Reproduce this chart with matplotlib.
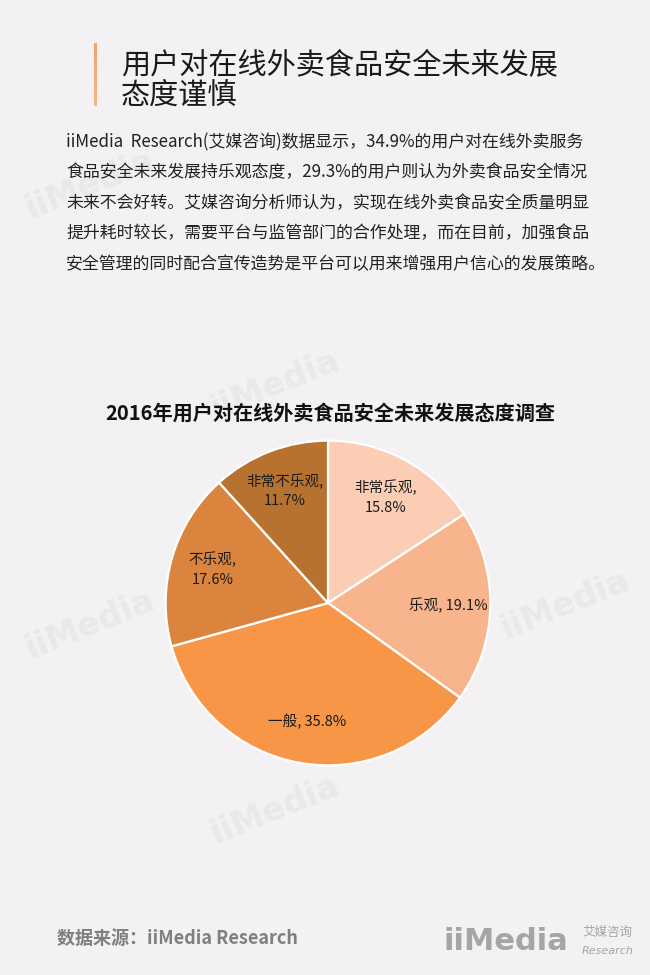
import matplotlib
matplotlib.use("Agg")
import matplotlib.pyplot as plt
import numpy as np

plt.rcParams['font.family'] = ['Noto Sans CJK SC', 'DejaVu Sans']

W, H = 650, 975
BG = '#f3f1f4'

# data
categories = ['非常乐观', '乐观', '一般', '不乐观', '非常不乐观']
values = [15.8, 19.1, 35.8, 17.6, 11.7]
seps = ['\n', ' ', ' ', '\n', '\n']   # how each label wraps
colors = ['#fbcdb4', '#f8b48c', '#f79646', '#da843e', '#b8722f']

title_lines = ['用户对在线外卖食品安全未来发展', '态度谨慎']
body_lines = [
    'iiMedia  Research(艾媒咨询)数据显示，34.9%的用户对在线外卖服务',
    '食品安全未来发展持乐观态度，29.3%的用户则认为外卖食品安全情况',
    '未来不会好转。艾媒咨询分析师认为，实现在线外卖食品安全质量明显',
    '提升耗时较长，需要平台与监管部门的合作处理，而在目前，加强食品',
    '安全管理的同时配合宣传造势是平台可以用来增强用户信心的发展策略。',
]
chart_title = '2016年用户对在线外卖食品安全未来发展态度调查'
source = '数据来源：iiMedia Research'


def px(x, y):
    return x / W, 1 - y / H


fig = plt.figure(figsize=(W / 100, H / 100), dpi=100, facecolor=BG)

# faint watermarks
for wx, wy in [(90, 185), (275, 385), (565, 605), (90, 625), (275, 810)]:
    fig.text(*px(wx, wy), 'iiMedia', fontsize=24, fontweight='bold',
             color='#ebe8ec', rotation=22, ha='center', va='center',
             family='DejaVu Sans', zorder=0)

# header accent bar
bar = fig.add_axes([94 / W, 1 - 106 / H, 3 / W, 63 / H])
bar.set_axis_off()
bar.imshow(np.linspace(0, 1, 50).reshape(-1, 1), aspect='auto',
           cmap=matplotlib.colors.LinearSegmentedColormap.from_list(
               'b', ['#f5a16b', '#f0b98a']))

fig.text(*px(121, 65), title_lines[0], fontsize=21, color='#1a1a1a',
         ha='left', va='center')
fig.text(*px(121, 96), title_lines[1], fontsize=21, color='#1a1a1a',
         ha='left', va='center')

for i, line in enumerate(body_lines):
    fig.text(*px(66, 142 + i * 30.4), line, fontsize=12.2, color='#222222',
             ha='left', va='center')

fig.text(*px(330, 413), chart_title, fontsize=14.5, fontweight='bold',
         color='#111111', ha='center', va='center')

# pie
cx, cy, r = 328, 603, 164
ax = fig.add_axes([(cx - r) / W, (H - cy - r) / H, 2 * r / W, 2 * r / H])
ax.set_facecolor(BG)
wedges, _ = ax.pie(values, colors=colors, startangle=90, counterclock=False,
                   radius=1, wedgeprops=dict(edgecolor='white', linewidth=1.6))
ax.set_xlim(-1.01, 1.01)
ax.set_ylim(-1.01, 1.01)
ax.set_aspect('equal')
ax.set_axis_off()

for w, cat, v, s in zip(wedges, categories, values, seps):
    ang = np.deg2rad((w.theta1 + w.theta2) / 2)
    ax.text(0.74 * np.cos(ang), 0.74 * np.sin(ang), f'{cat},{s}{v:.1f}%',
            fontsize=10.5, color='#1a1a1a', ha='center', va='center',
            linespacing=1.5)

# footer
fig.text(*px(57, 938), source, fontsize=13, fontweight='bold',
         color='#7f7f7f', ha='left', va='center')
fig.text(*px(443, 942), 'iiMedia', fontsize=22, fontweight='bold',
         color='#a5a5a5', ha='left', va='center', family='DejaVu Sans')
fig.text(*px(582, 932), '艾媒咨询', fontsize=9, color='#a5a5a5',
         ha='left', va='center')
fig.text(*px(582, 951), 'Research', fontsize=8, style='italic',
         color='#a5a5a5', ha='left', va='center', family='DejaVu Sans')

fig.savefig('out.png', dpi=100, facecolor=BG)
